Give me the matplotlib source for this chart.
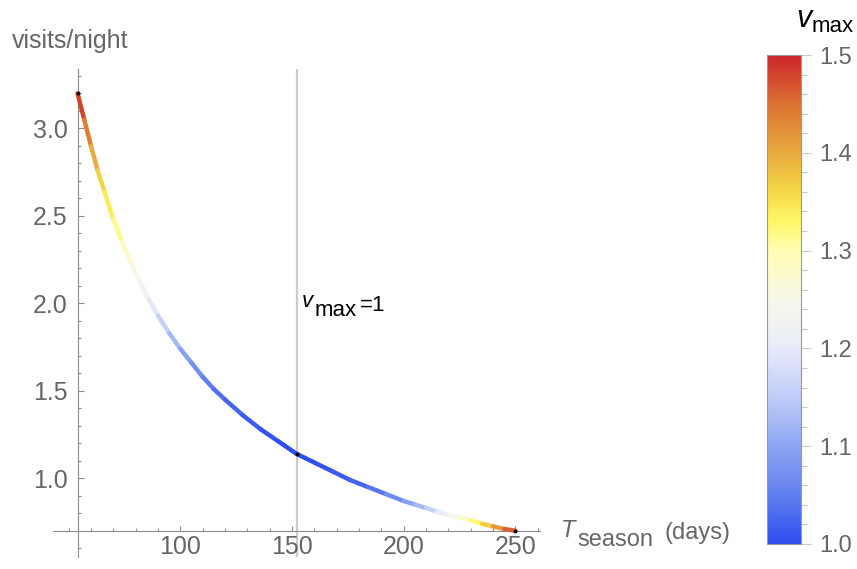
import numpy as np
import matplotlib
matplotlib.use("Agg")
import matplotlib.pyplot as plt
from matplotlib.collections import LineCollection
from matplotlib.colors import LinearSegmentedColormap, Normalize
from matplotlib.ticker import MultipleLocator, FixedLocator

plt.rcParams['font.family'] = ['Liberation Sans', 'DejaVu Sans']

# curve: season length (days), visits/night, v_max colour
t_season = [54, 57, 60, 63, 66, 70, 74, 78, 82, 86, 90, 95, 100, 105, 110, 115,
            120, 128, 136, 144, 152, 160, 168, 176, 184, 192, 200, 205, 210,
            215, 220, 225, 230, 235, 240, 245, 250]
visits = [3.20, 3.05, 2.90, 2.76, 2.64, 2.48, 2.35, 2.23, 2.12, 2.02, 1.93, 1.83,
          1.74, 1.66, 1.58, 1.51, 1.45, 1.36, 1.28, 1.21, 1.14, 1.09, 1.04, 0.99,
          0.95, 0.91, 0.87, 0.85, 0.83, 0.81, 0.79, 0.775, 0.76, 0.74, 0.725,
          0.71, 0.70]
vmax = [1.50, 1.46, 1.42, 1.38, 1.35, 1.33, 1.30, 1.27, 1.24, 1.21, 1.18, 1.14,
        1.11, 1.08, 1.06, 1.04, 1.03, 1.02, 1.01, 1.00, 1.00, 1.00, 1.01, 1.02,
        1.03, 1.05, 1.08, 1.11, 1.14, 1.18, 1.22, 1.26, 1.30, 1.35, 1.39, 1.44,
        1.48]
t_vmax1 = 152          # where v_max = 1
dots_t = [54, 152, 250]
dots_v = [3.20, 1.14, 0.70]

x_major = [100, 150, 200, 250]
y_major = [1.0, 1.5, 2.0, 2.5, 3.0]
cb_ticks = [1.0, 1.1, 1.2, 1.3, 1.4, 1.5]

W, H = 857, 569
gray_txt = (0.4, 0.4, 0.4)
gray_ax = (0.55, 0.55, 0.55)

cmap = LinearSegmentedColormap.from_list("temp", [
    (0.00, (0.18, 0.30, 0.93)),
    (0.10, (0.38, 0.50, 0.94)),
    (0.20, (0.55, 0.65, 0.95)),
    (0.30, (0.75, 0.80, 0.97)),
    (0.40, (0.91, 0.92, 0.98)),
    (0.50, (0.97, 0.97, 0.92)),
    (0.60, (1.00, 0.99, 0.70)),
    (0.66, (1.00, 0.97, 0.40)),
    (0.72, (0.96, 0.85, 0.28)),
    (0.80, (0.91, 0.67, 0.24)),
    (0.90, (0.86, 0.45, 0.20)),
    (1.00, (0.80, 0.15, 0.17)),
])
norm = Normalize(1.0, 1.5)

fig = plt.figure(figsize=(W / 100, H / 100), dpi=100)
ax = fig.add_axes([53 / W, 1 - 557 / H, 487 / W, 488 / H])
ax.set_xlim(43, 261)
ax.set_ylim(0.55, 3.34)

ax.axvline(t_vmax1, color=(0.8, 0.8, 0.8), lw=1.6, zorder=1)

pts = np.column_stack([t_season, visits]).reshape(-1, 1, 2)
segs = np.concatenate([pts[:-1], pts[1:]], axis=1)
v = np.array(vmax)
lc = LineCollection(segs, cmap=cmap, norm=norm, linewidths=3.2,
                    capstyle='round', joinstyle='round', zorder=3)
lc.set_array((v[:-1] + v[1:]) / 2)
ax.add_collection(lc)
ax.plot(dots_t, dots_v, 'o', color='k', ms=1.8, zorder=4)

for s in ['top', 'right']:
    ax.spines[s].set_visible(False)
ax.spines['left'].set_position(('data', 54))
ax.spines['bottom'].set_position(('data', 0.7))
for s in ['left', 'bottom']:
    ax.spines[s].set_color(gray_ax)
    ax.spines[s].set_linewidth(0.8)

ax.xaxis.set_major_locator(FixedLocator(x_major))
ax.xaxis.set_minor_locator(MultipleLocator(10))
ax.yaxis.set_major_locator(FixedLocator(y_major))
ax.yaxis.set_minor_locator(MultipleLocator(0.1))
ax.tick_params(which='both', direction='in', color=gray_ax, width=0.8,
               labelcolor=gray_txt, labelsize=18)
ax.tick_params(axis='x', which='major', length=3.5, pad=3)
ax.tick_params(axis='x', which='minor', length=2)
ax.tick_params(axis='y', which='major', length=4.5, pad=7)
ax.tick_params(axis='y', which='minor', length=2.5)
ax.set_xticklabels([str(t) for t in x_major])
ax.set_yticklabels([f"{t:.1f}" for t in y_major])


def ptext(px, py, s, **kw):
    fig.text(px / W, 1 - py / H, s, va='baseline', ha='left', **kw)


# axis labels
ptext(12, 48, "visits/night", fontsize=18, color=gray_txt)
ptext(561, 537, "T", fontsize=17, color=gray_txt, style='italic')
ptext(577, 546, "season", fontsize=17, color=gray_txt)
ptext(664, 539, "(days)", fontsize=17, color=gray_txt)

# annotation at the v_max = 1 line
ptext(302, 307, "v", fontsize=16, color='k', style='italic')
ptext(315, 316, "max", fontsize=16, color='k')
ptext(360, 311, "=1", fontsize=16, color='k')

# colour bar
cax = fig.add_axes([767 / W, 1 - 544 / H, 34 / W, 489 / H])
sm = plt.cm.ScalarMappable(norm=norm, cmap=cmap)
cb = fig.colorbar(sm, cax=cax)
cb.set_ticks(cb_ticks)
cb.set_ticklabels([f"{t:.1f}" for t in cb_ticks])
cb.ax.yaxis.set_minor_locator(MultipleLocator(0.02))
cb.outline.set_edgecolor((0.6, 0.6, 0.6))
cb.outline.set_linewidth(0.8)
cb.ax.tick_params(which='major', length=7, width=0.8, color=(0.78, 0.78, 0.78),
                  labelsize=17, labelcolor=gray_txt, pad=6)
cb.ax.tick_params(which='minor', length=4.5, width=0.8, color=(0.78, 0.78, 0.78))

ptext(796, 27, "v", fontsize=22, color='k', style='italic')
ptext(812, 32, "max", fontsize=16, color='k')

fig.savefig("out.png", dpi=100)
